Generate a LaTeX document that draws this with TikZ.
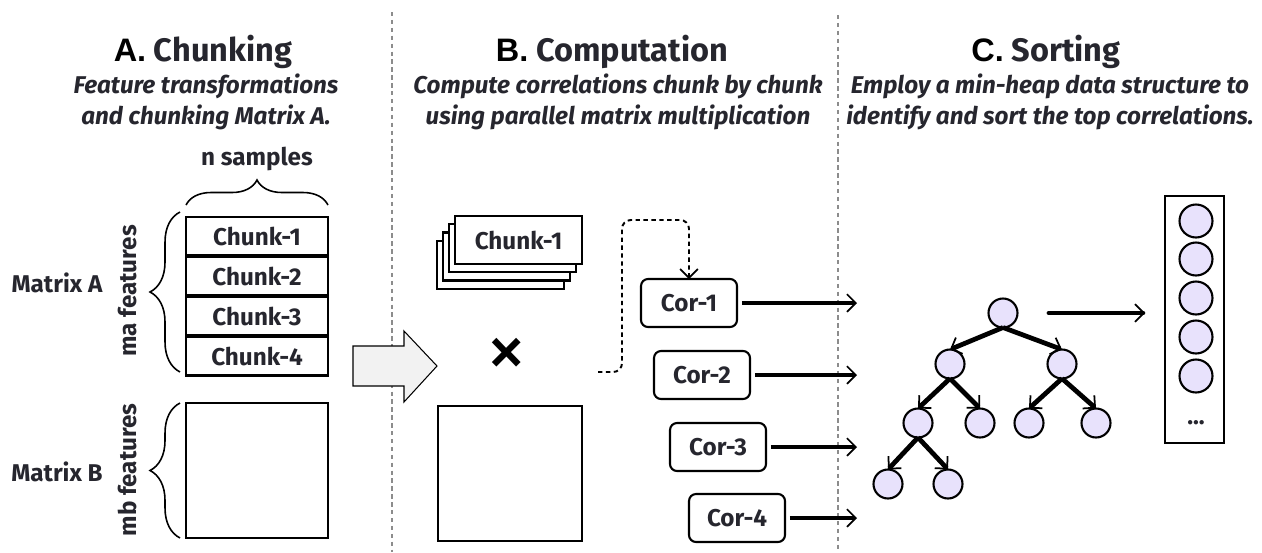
\documentclass[tikz,border=0pt]{standalone}
\usepackage{fontspec}
\setmainfont{Fira Sans}
\newfontfamily\headfont{Liberation Sans}
\usetikzlibrary{arrows.meta,calc,decorations.pathreplacing}

\definecolor{heapfill}{RGB}{232,226,252}
\definecolor{sepgray}{RGB}{140,140,140}
\definecolor{inkgray}{RGB}{38,38,46}
\definecolor{arrowfill}{RGB}{242,242,242}

\begin{document}
\begin{tikzpicture}[x=0.02cm,y=-0.02cm,
  every node/.style={inner sep=0pt,outer sep=0pt},
  title/.style={font=\fontsize{18.5}{20}\selectfont\bfseries,text=inkgray,anchor=base},
  subtitle/.style={font=\fontsize{13.8}{15}\selectfont\bfseries\itshape,text=inkgray,anchor=base},
  lbl/.style={font=\fontsize{13.8}{15}\selectfont\bfseries,text=inkgray},
  chunkbox/.style={draw,line width=1.2pt,minimum width=2.84cm,minimum height=0.77cm,lbl},
  corbox/.style={draw,line width=1.2pt,rounded corners=4pt,minimum width=1.92cm,minimum height=0.96cm,lbl},
  heap/.style={circle,draw,line width=1.2pt,fill=heapfill,minimum size=0.58cm},
  tip/.style={-{Straight Barb[line width=1pt,length=5pt,width=10pt]}},
  thickarrow/.style={line width=2.7pt,tip},
  mybrace/.style={decorate,decoration={brace,amplitude=#1},line width=0.9pt}]
\useasboundingbox (0,0) rectangle (1262,552);

% separators
\draw[sepgray,line width=1.1pt,dash pattern=on 2.5pt off 2pt] (392,12) -- (392,552);
\draw[sepgray,line width=1.1pt,dash pattern=on 2.5pt off 2pt] (838,15) -- (838,552);

% titles
\node[title] (ta) at (203,61) {{\color{black}\headfont A.} Chunking};
\node[subtitle] (sa1) at (206,93) {Feature transformations};
\node[subtitle] (sa2) at (206,124) {and chunking Matrix A.};
\node[title] (tb) at (612,61) {{\color{black}\headfont B.} Computation};
\node[subtitle] (sb1) at (618,93) {Compute correlations chunk by chunk};
\node[subtitle] (sb2) at (618,124) {using parallel matrix multiplication};
\node[title] (tc) at (1046,61) {{\color{black}\headfont C.} Sorting};
\node[subtitle] (sc1) at (1050,93) {Employ a min-heap data structure to};
\node[subtitle] (sc2) at (1050,124) {identify and sort the top correlations.};

% A. matrix A in chunks, matrix B
\node[chunkbox] (c1) at (257,236.25) {Chunk-1};
\node[chunkbox] (c2) at (257,276.25) {Chunk-2};
\node[chunkbox] (c3) at (257,316.25) {Chunk-3};
\node[chunkbox] (c4) at (257,356.25) {Chunk-4};
\node[draw,line width=1.2pt,minimum width=2.84cm,minimum height=2.7cm] (matb) at (257,470.5) {};

\draw[mybrace=0.5cm] ($(c1.north west)+(0,-12)$) -- ($(c1.north east)+(0,-12)$);
\draw[mybrace=0.6cm] ($(c4.south west)+(-6,-3.5)$) -- ($(c1.north west)+(-6,-5)$);
\draw[mybrace=0.6cm] ($(matb.south west)+(-6,0)$) -- ($(matb.north west)+(-6,0)$);

\node[lbl,anchor=base] (ns) at (257,165) {n samples};
\node[lbl,rotate=90] (maf) at (128,291) {ma features};
\node[lbl,rotate=90] (mbf) at (128,470) {mb features};
\node[lbl] (mata) at (57,283) {Matrix A};
\node[lbl] (matbl) at (57,472) {Matrix B};

% block arrow
\draw[line width=0.6pt,fill=arrowfill] (353,346) -- (404,346) -- (404,331) -- (437,366)
  -- (404,402) -- (404,386) -- (353,386) -- cycle;

% B. chunk by chunk
\node[chunkbox,minimum width=2.54cm,minimum height=0.96cm,fill=white] (s4) at (500.5,265) {};
\node[chunkbox,minimum width=2.54cm,minimum height=0.96cm,fill=white] (s3) at (506.5,256.5) {};
\node[chunkbox,minimum width=2.54cm,minimum height=0.96cm,fill=white] (s2) at (512.5,248) {};
\node[chunkbox,minimum width=2.54cm,minimum height=0.96cm,fill=white] (s1) at (518.5,240) {Chunk-1};
\node[font=\fontsize{46}{46}\selectfont] (times) at (507,358) {×};
\node[draw,line width=1.2pt,minimum width=2.88cm,minimum height=2.7cm] (mbb) at (510,473.5) {};

\node[corbox] (cor1) at (689,303) {Cor-1};
\node[corbox] (cor2) at (702,375) {Cor-2};
\node[corbox] (cor3) at (718,447) {Cor-3};
\node[corbox] (cor4) at (737,518) {Cor-4};

\coordinate (dstart) at (598,372);
\draw[line width=1.1pt,dash pattern=on 2.5pt off 2pt,rounded corners=5pt,tip]
  (dstart) -- ++(24,0) |- ($(cor1.north)+(0,-59)$) -- (cor1.north);

\coordinate (o1) at (857,303);
\coordinate (o2) at (857,375);
\coordinate (o3) at (857,447);
\coordinate (o4) at (857,518);
\foreach \i in {1,2,3,4}
  \draw[thickarrow,shorten <=0.1cm] (cor\i) -- (o\i);

% C. min-heap
\node[heap] (h1) at (1003,313) {};
\node[heap] (h2) at (950,364) {};
\node[heap] (h3) at (1062,364) {};
\node[heap] (h4) at (918,423) {};
\node[heap] (h5) at (980,423) {};
\node[heap] (h6) at (1029,423) {};
\node[heap] (h7) at (1096,423) {};
\node[heap] (h8) at (888,484) {};
\node[heap] (h9) at (948,484) {};

\draw[thickarrow] (h1.south) -- (h2.north);
\draw[thickarrow] (h1.south) -- (h3.north);
\draw[thickarrow] (h2.south) -- (h4.north);
\draw[thickarrow] (h2.south) -- (h5.north);
\draw[thickarrow] (h3.south) -- (h6.north);
\draw[thickarrow] (h3.south) -- (h7.north);
\draw[thickarrow] (h4.south) -- (h8.north);
\draw[thickarrow] (h4.south) -- (h9.north);

% sorted list
\node[draw,line width=1.2pt,minimum width=1.18cm,minimum height=4.94cm] (list) at (1194.5,319.5) {};
\node[heap,minimum size=0.66cm] (l1) at (1196,221) {};
\node[heap,minimum size=0.66cm] (l2) at (1196,259) {};
\node[heap,minimum size=0.66cm] (l3) at (1196,298) {};
\node[heap,minimum size=0.66cm] (l4) at (1196,337) {};
\node[heap,minimum size=0.66cm] (l5) at (1196,376) {};
\node[lbl,anchor=base] (dots) at (1196,424) {...};

\draw[thickarrow,line cap=round,shorten <=0.63cm,shorten >=0.4cm] (h1.east) -- (h1.east -| list.west);
\end{tikzpicture}
\end{document}
